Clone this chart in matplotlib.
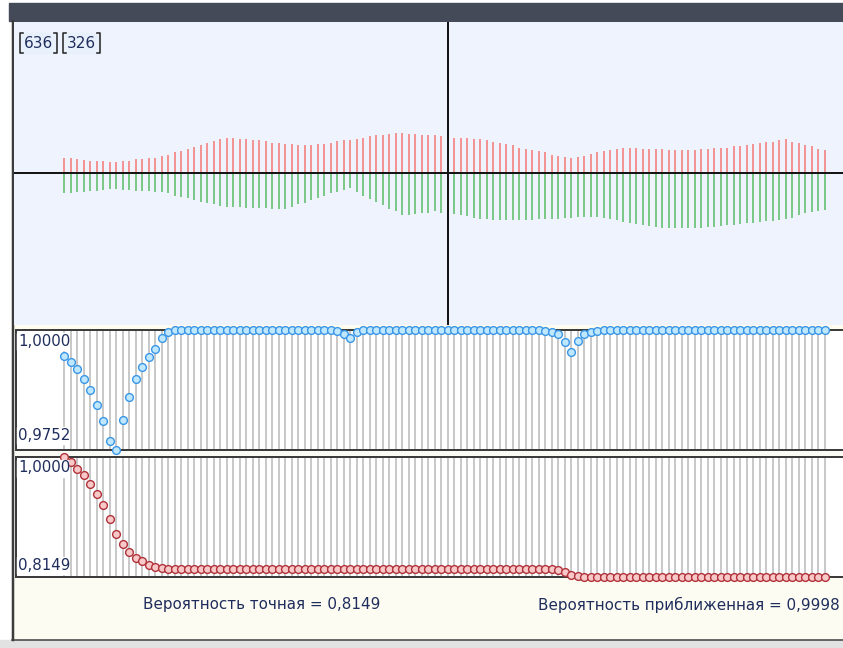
import numpy as np
import matplotlib
matplotlib.use("Agg")
import matplotlib.pyplot as plt
from matplotlib.patches import Rectangle
from matplotlib.lines import Line2D

plt.rcParams['font.family'] = ['DejaVu Sans']

# ---- data -------------------------------------------------------------
# upper (positive) amplitudes, one per sample
upper = [44, 44, 41, 40, 37, 37, 37, 33, 33, 37, 37, 41, 41, 44, 44, 51, 55, 62, 66, 73,
         77, 84, 91, 95, 101, 105, 105, 102, 102, 99,
         98, 95, 91, 91, 87, 87, 84,
         84, 84, 88, 88, 91, 95, 99, 99, 102, 106, 110, 114, 114, 117, 120, 120, 117, 117,
         114, 114, 114, 110, 110,
         105, 105, 105, 101, 101, 98, 94, 91, 87, 83, 76, 72, 69, 65, 62, 55, 51, 47, 44, 47,
         51, 58, 62, 65, 69, 72, 76, 76, 76, 72,
         72, 72, 72, 69, 69, 69, 69, 69, 72, 72, 76, 76, 76, 80, 80, 83, 87, 91, 94, 94,
         98, 101, 94, 91, 83, 80, 72, 69]
# lower (negative) amplitudes, one per sample
lower = [59, 60, 57, 58, 53, 53, 51, 49, 49, 50, 51, 53, 53, 53, 57, 57, 60, 68, 71, 76,
         82, 86, 89, 93, 99, 101, 101, 101, 104, 104,
         104, 104, 108, 108, 108, 101, 93,
         89, 81, 75, 68, 61, 56, 50, 46, 57, 68, 79, 86, 97, 108, 115, 126, 126, 123, 119,
         119, 115, 119, 121,
         123, 127, 130, 134, 137, 138, 140, 140, 140, 140, 140, 140, 140, 138, 137, 137, 137,
         134, 134, 133, 133, 133, 133,
         135, 138, 142, 146, 150, 154, 157, 160, 162, 164, 165, 166, 166, 166, 165, 164, 163,
         161, 159, 157, 155, 153, 151, 149, 147, 145, 143, 141, 139,
         136, 126, 121, 116, 113, 111]

# approximate probability per sample
p_approx = ([0.9946, 0.9934, 0.9919, 0.9899, 0.9876, 0.9846, 0.9811, 0.9770, 0.9752, 0.9814,
             0.9861, 0.9899, 0.9924, 0.9945, 0.9960, 0.9983, 0.9995, 0.9999]
            + [1.0] * 24
            + [0.99985, 0.9992, 0.9983, 0.9995, 0.99993]
            + [1.0] * 27
            + [0.99986, 0.99953, 0.99911, 0.99759, 0.99540, 0.99779, 0.99911, 0.99965, 0.99984]
            + [1.0] * 35)

# exact probability per sample
p_exact = ([1.0, 0.9923, 0.9812, 0.9715, 0.9579, 0.9429, 0.9264, 0.9041, 0.8815, 0.8653,
            0.8539, 0.8447, 0.8391, 0.8334, 0.8299, 0.8294, 0.8280]
           + [0.8272] * 27
           + [0.8265] * 32
           + [0.8255, 0.8226, 0.8184, 0.8160]
           + [0.8149] * 38)

cursor_x, cursor_y = 636, 326
cursor_sample = 59
p_min_approx = 0.9752
p_min_exact = 0.8149
p_exact_final = 0.8149
p_approx_final = 0.9998

idx = np.arange(len(upper))

# ---- layout helpers (pixel based) ------------------------------------
W, H = 843, 648
fig = plt.figure(figsize=(W / 100, H / 100), dpi=100)
fig.patch.set_facecolor('white')

X0, DX = 64.0, 6.5   # pixel position of first sample and sample pitch
PX = 72 / 100        # one pixel in points


def rect(x0, y0, x1, y1):
    return [x0 / W, 1 - y1 / H, (x1 - x0) / W, (y1 - y0) / H]


def fx(x):
    return x / W


def fy(y):
    return 1 - y / H


def xlim_for(x0, x1):
    return ((x0 - X0) / DX, (x1 - X0) / DX)


def pixel_axes(zorder):
    a = fig.add_axes([0, 0, 1, 1], zorder=zorder)
    a.set_xlim(0, W)
    a.set_ylim(H, 0)
    a.axis('off')
    a.patch.set_alpha(0)
    return a


# window chrome
bg = pixel_axes(-1)
bg.add_patch(Rectangle((9, 3), W - 9, 18, color='#444a58', zorder=1))
bg.add_patch(Rectangle((12, 322), W - 12, 10, color='#fffdf0', zorder=1))
bg.add_patch(Rectangle((12, 450), W - 12, 8, color='#fbfbf6', zorder=1))
bg.add_patch(Rectangle((12, 577), W - 12, 63, color='#fdfcf2', zorder=1))
bg.add_patch(Rectangle((0, 640), W, 8, color='#e2e2e2', zorder=1))
bg.add_line(Line2D([13, 13], [21, 640], color='#3c3c3c', lw=2.5 * PX, zorder=3))
bg.add_line(Line2D([12, W], [639.5, 639.5], color='#3c3c3c', lw=1.5 * PX, zorder=3))

# ---- top panel: amplitude bars ---------------------------------------
ax = fig.add_axes(rect(14, 22, 843, 325), zorder=1)
ax.set_facecolor('#eef3fd')
ax.set_xlim(*xlim_for(14, 843))
ax.set_ylim(-456, 453)
ax.vlines(idx, 0, upper, color='#f29494', lw=2.0 * PX)
ax.vlines(idx, [-v for v in lower], 0, color='#7cc888', lw=2.0 * PX)
ax.axhline(0, color='#151515', lw=2.0 * PX)
ax.axvline(cursor_sample, color='#151515', lw=2.0 * PX)
for s in ax.spines.values():
    s.set_visible(False)
ax.set_xticks([])
ax.set_yticks([])


def prob_panel(y0, y1, values, vmin, face, edge):
    a = fig.add_axes(rect(16, y0, 843, y1), zorder=1)
    a.set_facecolor('white')
    a.set_xlim(*xlim_for(16, 843))
    a.set_ylim(vmin, 1.0)
    a.vlines(idx, vmin, 1.0, color='#c9c9c9', lw=2.0 * PX, zorder=1)
    a.plot(idx, values, 'o', ms=5.6, mfc=face, mec=edge, mew=1.0,
           clip_on=False, zorder=5)
    for side in ['left', 'top', 'bottom']:
        a.spines[side].set_color('#3c3c3c')
        a.spines[side].set_linewidth(2.0 * PX)
    a.spines['right'].set_visible(False)
    a.set_xticks([])
    a.set_yticks([])
    return a


ax_mid = prob_panel(330, 450, p_approx, p_min_approx, '#bfe8ff', '#3a96e6')
ax_bot = prob_panel(457, 577, p_exact, p_min_exact, '#f9c8c8', '#b0323a')

# ---- overlay: cursor readouts and captions ---------------------------
top = pixel_axes(10)
for x_left, x_right, val in [(20, 57, cursor_x), (63, 100, cursor_y)]:
    top.add_patch(Rectangle((x_left, 33), x_right - x_left, 20, color='#e8f0fb', zorder=1))
    top.text((x_left + x_right) / 2, 43.5, str(val), color='#1f2d5c',
             fontsize=11, ha='center', va='center', zorder=3)
    for xb, d in [(x_left, 1), (x_right, -1)]:
        top.add_line(Line2D([xb + 3 * d, xb, xb, xb + 3 * d], [33, 33, 53, 53],
                            color='#2a2a2a', lw=1.6 * PX, zorder=2))


def axis_label(y_center, txt):
    top.add_patch(Rectangle((17, y_center - 8.5), 51, 17, color='white', zorder=1))
    top.text(18, y_center, txt, color='#1f2d5c', fontsize=10.8,
             ha='left', va='center', zorder=3)


axis_label(341, '1,0000')
axis_label(435, f'{p_min_approx:.4f}'.replace('.', ','))
axis_label(468, '1,0000')
axis_label(565, f'{p_min_exact:.4f}'.replace('.', ','))

top.text(143, 605, 'Вероятность точная = ' + f'{p_exact_final:.4f}'.replace('.', ','),
         color='#1f2d5c', fontsize=10.9, ha='left', va='center')
top.text(538, 605, 'Вероятность приближенная = ' + f'{p_approx_final:.4f}'.replace('.', ','),
         color='#1f2d5c', fontsize=10.9, ha='left', va='center')

fig.savefig('out.png', dpi=100)
